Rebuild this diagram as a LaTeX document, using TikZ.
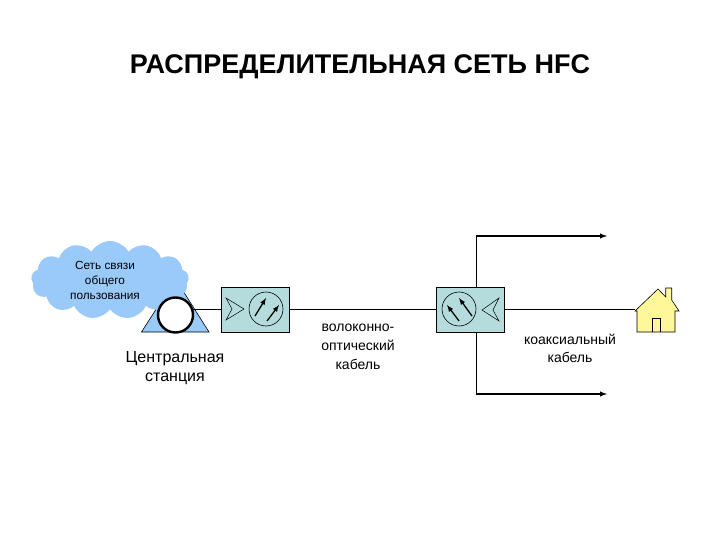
\documentclass[tikz,border=0pt]{standalone}
\usepackage{fontspec}
\setmainfont{Liberation Sans}
\usetikzlibrary{shapes.symbols}
\definecolor{cloudblue}{HTML}{99CAFA}
\definecolor{boxteal}{HTML}{B4DCDC}
\definecolor{houseyellow}{HTML}{FFF799}
\begin{document}
\begin{tikzpicture}[x=1pt,y=-1pt,
	amp/.style={draw,fill=boxteal,minimum width=68,minimum height=45,inner sep=0},
	dial/.style={circle,draw,minimum size=34,inner sep=0,line width=0.6},
	lbl/.style={align=center,inner sep=0,font=\fontsize{14}{19}\selectfont},
	wire/.style={line width=0.7},
	feed/.style={line width=1.4,-latex},
	needle/.style={line width=1.3,-latex}]
\useasboundingbox (0,0) rectangle (720,540);
\node[inner sep=0,font=\bfseries\fontsize{27}{30}\selectfont] (title) at (360,67) {РАСПРЕДЕЛИТЕЛЬНАЯ СЕТЬ HFC};
% station
\draw[fill=cloudblue,line width=0.6] (141.5,332) -- (175.5,279) -- (209,332) -- cycle;
\node[cloud,cloud puffs=13,cloud puff arc=120,aspect=2,fill=cloudblue,inner sep=0,minimum width=158,minimum height=78] (net) at (110,280) {};
\node[lbl,font=\fontsize{11.8}{15}\selectfont] (nettext) at (105,280) {Сеть связи\\общего\\пользования};
\node[circle,draw,fill=white,line width=2.4,minimum size=35,inner sep=0] (ring) at (175.5,315) {};
\node[lbl,font=\fontsize{16}{19}\selectfont] (stationtext) at (175,368) {Центральная\\станция};
% boxes
\node[amp] (ampl) at (255,309.5) {};
\node[amp] (ampr) at (470.5,309.5) {};
\node[dial] (diall) at (266,309) {};
\node[dial] (dialr) at (459,309) {};
\draw[line width=0.5] (226,298) -- (244,309) -- (226,320) -- (232,309) -- cycle;
\draw[line width=0.5] (499,298) -- (482,310) -- (499,321) -- (493,310) -- cycle;
\draw[needle] (255,316) -- (266,298);
\draw[needle] (267,321) -- (279,305);
\draw[needle] (459,321) -- (447,305);
\draw[needle] (472,316) -- (459,298);
% house
\draw[fill=houseyellow,line width=0.6] (635,311) -- (658,289) -- (665.7,297) -- (665.7,288) -- (671.7,288) -- (671.7,300) -- (679,311) -- (675,311) -- (675,332) -- (637,332) -- (637,311) -- cycle;
\draw[line width=0.6] (652,332) -- (652,318) -- (660.7,318) -- (660.7,332);
\coordinate (house) at (635,309.5);
% connectors
\coordinate (ringout) at (192.5,309.5);
\draw[wire] (ringout) -- (ampl);
\draw[wire] (ampl) -- (ampr);
\draw[wire] (ampr) -- (house);
\coordinate (uptop) at (476.7,287);
\coordinate (up) at (476.7,236);
\coordinate (upend) at (607,236);
\coordinate (downtop) at (476.7,332);
\coordinate (down) at (476.7,394);
\coordinate (downend) at (607,394);
\draw[feed] (uptop) -- (up) -- (upend);
\draw[feed] (downtop) -- (down) -- (downend);
\node[lbl] (fibertext) at (358,347) {волоконно-\\оптический\\кабель};
\node[lbl,font=\fontsize{14}{17.5}\selectfont] (coaxtext) at (570,348.5) {коаксиальный\\кабель};
\end{tikzpicture}
\end{document}
